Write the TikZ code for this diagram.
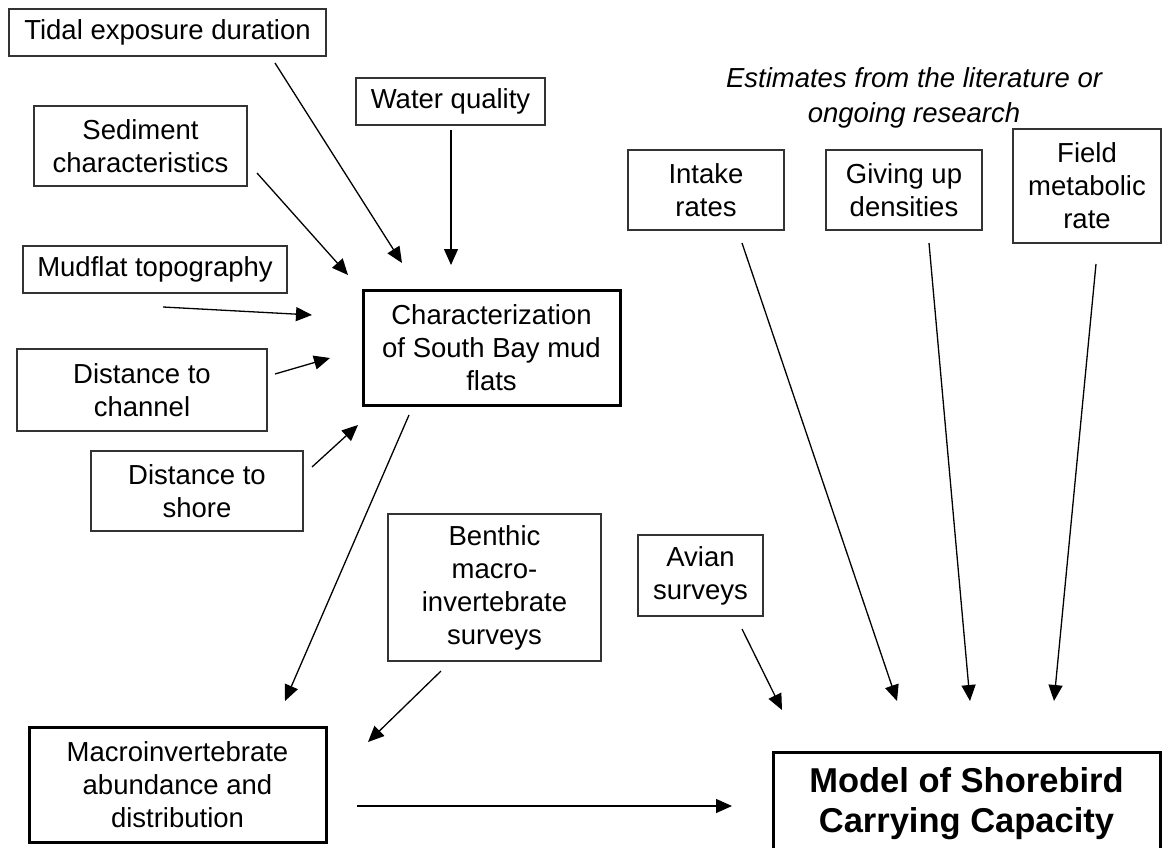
\documentclass[tikz,border=0pt]{standalone}
\usepackage{fontspec}
\setmainfont{Liberation Sans}
\usetikzlibrary{arrows.meta}
\tikzset{
  thinbox/.style={draw=black!80, line width=1.5pt, inner sep=0pt, align=center,
    font=\fontsize{27.5}{33}\selectfont},
  thickbox/.style={draw=black, line width=3pt, inner sep=0pt, align=center,
    font=\fontsize{27.5}{33}\selectfont},
  conn/.style={line width=1.3pt, -{Triangle[length=16pt,width=14pt]}},
}
\begin{document}
\begin{tikzpicture}[x=1pt,y=-1pt]
\useasboundingbox (0,0) rectangle (1162,848);
\fill[white] (0,0) rectangle (1162,848);
\clip (0,0) rectangle (1162,848);

% boxes
\node[thinbox, minimum width=317pt, minimum height=47pt] (tidal) at (167.5,32.5) {Tidal exposure duration};
\node[thinbox, minimum width=189pt, minimum height=47pt] (water) at (450.5,101.5) {Water quality};
\node[thinbox, minimum width=213pt, minimum height=80pt] (sed) at (140.5,146) {Sediment\\characteristics};
\node[thinbox, minimum width=264pt, minimum height=47pt] (mud) at (155,269.5) {Mudflat topography};
\node[thinbox, minimum width=250pt, minimum height=82pt] (chan) at (142,390) {Distance to\\channel};
\node[thinbox, minimum width=212pt, minimum height=80pt] (shore) at (197,491) {Distance to\\shore};
\node[thickbox, minimum width=257pt, minimum height=115pt] (char) at (491.5,347.5) {Characterization\\of South Bay mud\\flats};
\node[thinbox, minimum width=156pt, minimum height=80pt] (intake) at (706,190) {Intake\\rates};
\node[thinbox, minimum width=156pt, minimum height=80pt] (giving) at (904,190) {Giving up\\densities};
\node[thinbox, minimum width=148pt, minimum height=114pt] (field) at (1087,186) {Field\\metabolic\\rate};
\node[align=center, inner sep=0pt, font=\fontsize{27.5}{35}\selectfont\itshape] (est) at (914,97.5) {Estimates from the literature or\\ongoing research};
\node[thinbox, minimum width=213pt, minimum height=147pt] (benthic) at (494.5,587.5) {Benthic\\macro-\\invertebrate\\surveys};
\node[thinbox, minimum width=125pt, minimum height=81pt] (avian) at (700.5,575.5) {Avian\\surveys};
\node[thickbox, minimum width=297pt, minimum height=115pt] (macro) at (177.5,784.5) {Macroinvertebrate\\abundance and\\distribution};
\node[thickbox, minimum width=387pt, minimum height=104pt, font=\fontsize{34.5}{40}\selectfont\bfseries] (model) at (966.5,804) {Model of Shorebird\\Carrying Capacity};

% connector end points
\coordinate (t1) at (275,63);    \coordinate (h1) at (402,263);
\coordinate (t2) at (451,130);   \coordinate (h2) at (451,265);
\coordinate (t3) at (257,173);   \coordinate (h3) at (348,275);
\coordinate (t4) at (163,307);   \coordinate (h4) at (312,315);
\coordinate (t5) at (275,374);   \coordinate (h5) at (330,358);
\coordinate (t6) at (312,467);   \coordinate (h6) at (358,425);
\coordinate (t7) at (409,415);   \coordinate (h7) at (285,701);
\coordinate (t8) at (441,671);   \coordinate (h8) at (368,742);
\coordinate (t9) at (357,806);   \coordinate (h9) at (732,806);
\coordinate (t10) at (742,629);  \coordinate (h10) at (782,710);
\coordinate (t11) at (742,243);  \coordinate (h11) at (897,701);
\coordinate (t12) at (929,243);  \coordinate (h12) at (970,701);
\coordinate (t13) at (1096,264); \coordinate (h13) at (1054,701);

\draw[conn] (t1) -- (h1);
\draw[conn] (t2) -- (h2);
\draw[conn] (t3) -- (h3);
\draw[conn] (t4) -- (h4);
\draw[conn] (t5) -- (h5);
\draw[conn] (t6) -- (h6);
\draw[conn] (t7) -- (h7);
\draw[conn] (t8) -- (h8);
\draw[conn] (t9) -- (h9);
\draw[conn] (t10) -- (h10);
\draw[conn] (t11) -- (h11);
\draw[conn] (t12) -- (h12);
\draw[conn] (t13) -- (h13);
\end{tikzpicture}
\end{document}
